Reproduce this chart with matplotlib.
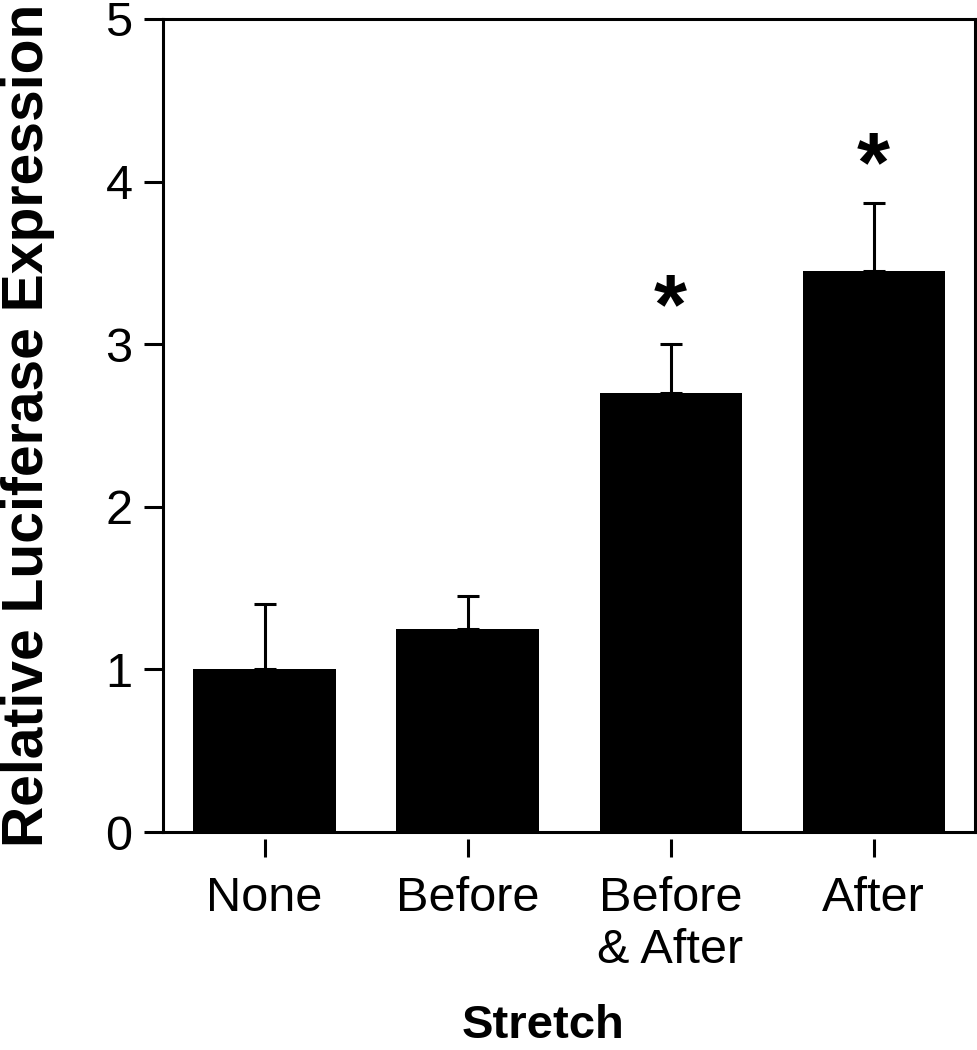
import matplotlib.pyplot as plt
import matplotlib as mpl

# Global font
mpl.rcParams['font.family'] = ['Liberation Sans', 'DejaVu Sans']
mpl.rcParams['font.size'] = 35

categories = ['None', 'Before', 'Before\n& After', 'After']
means = [1.0, 1.25, 2.7, 3.45]
upper_err = [0.40, 0.20, 0.30, 0.42]
significant = [False, False, True, True]
y_ticks = [0, 1, 2, 3, 4, 5]

fig = plt.figure(figsize=(9.78, 10.5), dpi=100)
ax = fig.add_axes([0.1667, 0.2076, 0.8303, 0.7744])

x = list(range(len(categories)))
ax.bar(x, means, width=0.7, color='black', zorder=2)
ax.errorbar(x, means, yerr=[[0] * len(means), upper_err], fmt='none',
            ecolor='black', elinewidth=2.2, capsize=8, capthick=2.2, zorder=1)

# Significance stars
for i, sig in enumerate(significant):
    if sig:
        ax.text(i, means[i] + upper_err[i] + 0.07, '*', ha='center', va='baseline',
                fontsize=61, fontweight='bold')

ax.set_xlim(-0.5, 3.5)
ax.set_ylim(0, 5)
ax.set_yticks(y_ticks)
ax.set_xticks(x)
ax.set_xticklabels(categories, linespacing=0.95)

# Bottom border drawn as a line so the x ticks can float below it
ax.axhline(0, color='black', linewidth=2.2, zorder=3, clip_on=False)
ax.spines['bottom'].set_position(('outward', 5))
ax.spines['bottom'].set_color('none')
for side in ['top', 'left', 'right']:
    ax.spines[side].set_linewidth(2.2)

ax.tick_params(axis='y', direction='out', length=14, width=2.2, pad=8)
ax.tick_params(axis='x', direction='out', length=13, width=2.2, pad=14)

ax.set_ylabel('Relative Luciferase Expression', fontweight='bold', fontsize=41, labelpad=36)
ax.set_xlabel('Stretch', fontweight='bold', fontsize=34)
ax.xaxis.set_label_coords(0.468, -0.212)

plt.savefig('out.png', dpi=100)
